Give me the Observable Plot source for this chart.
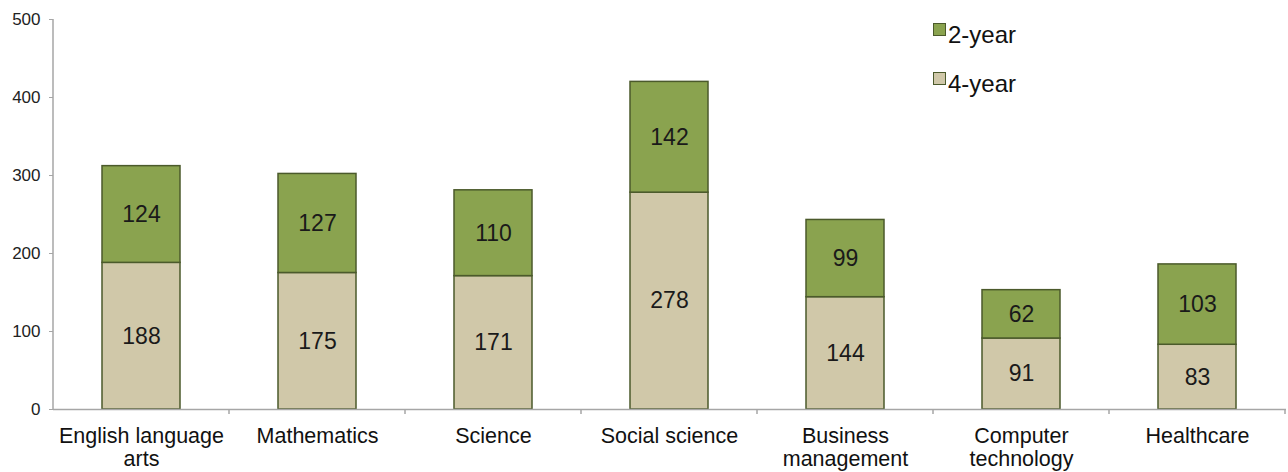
<!DOCTYPE html>
<html>
<head>
<meta charset="utf-8">
<script src="https://cdn.jsdelivr.net/npm/d3@7"></script>
<script src="https://cdn.jsdelivr.net/npm/@observablehq/plot@0.6"></script>
<style>
  html, body { margin: 0; padding: 0; background: #fff; }
  #wrap { position: relative; width: 1288px; height: 472px; font-family: "Liberation Sans", Arial, sans-serif; }
  .legend { position: absolute; left: 933px; font-size: 24px; color: #111; display: flex; align-items: center; }
  .legend .sw { width: 11px; height: 11px; border: 1.5px solid #4b5a2b; margin-right: 2px; position: relative; top: -6px; }
</style>
</head>
<body>
<div id="wrap"></div>
<script>
const categories = ["English language\narts", "Mathematics", "Science", "Social science", "Business\nmanagement", "Computer\ntechnology", "Healthcare"];
const fourYear = [188, 175, 171, 278, 144, 91, 83];
const twoYear = [124, 127, 110, 142, 99, 62, 103];
const seriesNames = ["4-year", "2-year"];
const seriesColors = ["#d0c8a9", "#8aa34f"];
const yTicks = [0, 100, 200, 300, 400, 500];

const data = [];
categories.forEach((c, i) => data.push({cat: c, type: "4-year", value: fourYear[i]}));
categories.forEach((c, i) => data.push({cat: c, type: "2-year", value: twoYear[i]}));

const W = 1288, H = 472;
const plot = Plot.plot({
  width: W,
  height: H,
  marginLeft: 53,
  marginRight: 2,
  marginTop: 19,
  marginBottom: 63,
  style: {fontFamily: "'Liberation Sans', Arial, sans-serif", background: "#fff"},
  x: {domain: categories, paddingInner: 0.556, paddingOuter: 0.278, label: null},
  y: {domain: [0, 500], label: null},
  color: {domain: seriesNames, range: seriesColors},
  marks: [
    Plot.barY(data, Plot.stackY({x: "cat", y: "value", z: "type", fill: "type", stroke: "#4b5a2b", strokeWidth: 1.5})),
    Plot.text(data, Plot.stackY({x: "cat", y: "value", z: "type", text: d => String(d.value), fontSize: 23, fill: "#1a1a1a"})),
    Plot.ruleY([0], {stroke: "#a6a6a6", strokeWidth: 1.5}),
    Plot.axisY({ticks: yTicks, tickSize: 4, tickPadding: 9, fontSize: 17, stroke: "#a6a6a6", fill: "#222", label: null, tickFormat: d => String(d)}),
    Plot.axisX({tickSize: 0, tickPadding: 17, fontSize: 21.5, fill: "#111", label: null, lineHeight: 1.08})
  ]
});

const wrap = document.getElementById("wrap");
wrap.appendChild(plot);

// y-axis line and category boundary ticks via scales
const x = plot.scale("x");
const y = plot.scale("y");
const svg = d3.select(plot);
const x0 = 53, x1 = W - 2;
svg.append("line").attr("x1", x0).attr("x2", x0).attr("y1", y.apply(500)).attr("y2", y.apply(0))
  .attr("stroke", "#a6a6a6").attr("stroke-width", 1.5);
const step = x.step;
for (let i = 1; i <= categories.length; i++) {
  const bx = x.apply(categories[i - 1]) + x.bandwidth / 2 + step / 2;
  svg.append("line").attr("x1", bx).attr("x2", bx).attr("y1", y.apply(0)).attr("y2", y.apply(0) + 5)
    .attr("stroke", "#a6a6a6").attr("stroke-width", 1.5);
}

// legend
[["2-year", seriesColors[1], 21], ["4-year", seriesColors[0], 70]].forEach(([name, col, top]) => {
  const d = document.createElement("div");
  d.className = "legend";
  d.style.top = top + "px";
  d.innerHTML = `<span class="sw" style="background:${col}"></span><span>${name}</span>`;
  wrap.appendChild(d);
});
</script>
</body>
</html>
